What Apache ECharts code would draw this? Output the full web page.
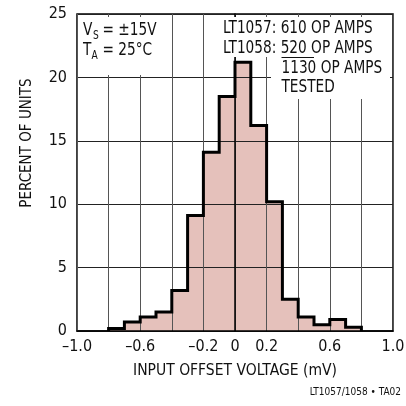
<!DOCTYPE html>
<html>
<head>
<meta charset="utf-8">
<script src="https://cdn.jsdelivr.net/npm/echarts@6/dist/echarts.min.js"></script>
<style>
html,body{margin:0;padding:0;background:#fff;}
#chart{width:406px;height:406px;}
</style>
</head>
<body>
<div id="chart"></div>
<script>
// ---- data ----
const binStarts = [-0.8,-0.7,-0.6,-0.5,-0.4,-0.3,-0.2,-0.1,0.0,0.1,0.2,0.3,0.4,0.5,0.6,0.7];
const binWidth = 0.1;
const percentOfUnits = [0.2,0.7,1.1,1.5,3.2,9.1,14.1,18.5,21.2,16.2,10.2,2.5,1.1,0.5,0.9,0.3];
const xLabelValues = [-1.0,-0.6,-0.2,0,0.2,0.6,1.0];
const xLabelTexts = ['\u20131.0','\u20130.6','\u20130.2','0','0.2','0.6','1.0'];
const yTicks = [0,5,10,15,20,25];

// step outline points built from the bins
const stepData = [[binStarts[0], 0]];
binStarts.forEach((s, i) => stepData.push([s, percentOfUnits[i]]));
const lastEnd = binStarts[binStarts.length - 1] + binWidth;
stepData.push([lastEnd, percentOfUnits[percentOfUnits.length - 1]]);
stepData.push([lastEnd, 0]);

const FONT = '"DejaVu Sans Condensed","Liberation Sans Narrow","Liberation Sans",sans-serif';
const SX = 0.845;
function t(x, y, text, size, extra) {
  return Object.assign({type: 'text', z: 101, x: x, y: y, scaleX: SX,
    style: {text: text, font: size + 'px ' + FONT, fill: '#111', verticalAlign: 'middle'}}, extra || {});
}
const chart = echarts.init(document.getElementById('chart'));
chart.setOption({
  animation: false,
  backgroundColor: '#fff',
  grid: {
    left: 77, right: 13, top: 14, bottom: 75,
    show: true, borderColor: '#000', borderWidth: 1.5,
    outerBoundsMode: 'none', containLabel: false
  },
  xAxis: {
    type: 'value', min: -1, max: 1, interval: 0.2, z: 3,
    name: 'INPUT OFFSET VOLTAGE (mV)', nameLocation: 'middle', nameGap: 32,
    nameTextStyle: {fontFamily: FONT, fontSize: 15.5, color: '#111'},
    axisLine: {show: true, lineStyle: {color: '#000', width: 1.5}},
    axisTick: {show: false},
    splitLine: {show: true, lineStyle: {color: '#555', width: 1}},
    axisLabel: {
      fontFamily: FONT, fontSize: 16, color: '#111', margin: 8,
      showMinLabel: true, showMaxLabel: true, hideOverlap: false,
      formatter: function (v) {
        for (let i = 0; i < xLabelValues.length; i++) {
          if (Math.abs(v - xLabelValues[i]) < 1e-6) return xLabelTexts[i];
        }
        return '';
      }
    }
  },
  yAxis: {
    type: 'value', min: yTicks[0], max: yTicks[yTicks.length - 1], interval: 5, z: 3,
    axisLine: {show: true, lineStyle: {color: '#000', width: 1.5}},
    axisTick: {show: false},
    splitLine: {show: true, lineStyle: {color: '#222', width: 1}},
    axisLabel: {fontFamily: FONT, fontSize: 16, color: '#111', margin: 10,
      showMinLabel: true, showMaxLabel: true}
  },
  series: [
    {
      type: 'line', step: 'end', data: stepData, showSymbol: false, z: 1,
      lineStyle: {width: 0, color: '#e5c1bb'},
      areaStyle: {color: '#e5c1bb', opacity: 1},
      silent: true
    },
    {
      type: 'line', step: 'end', data: stepData, showSymbol: false, z: 4,
      lineStyle: {width: 3, color: '#000', join: 'miter'},
      silent: true
    }
  ],
  graphic: [
    // white boxes behind annotations
    {type: 'rect', z: 100, shape: {x: 78.5, y: 17, width: 89, height: 58}, style: {fill: '#fff'}},
    {type: 'rect', z: 100, shape: {x: 218, y: 17, width: 172, height: 40}, style: {fill: '#fff'}},
    {type: 'rect', z: 100, shape: {x: 271, y: 57, width: 119, height: 42}, style: {fill: '#fff'}},
    // left annotation
    t(83, 30, 'V', 18),
    t(93, 35.5, 'S', 12),
    t(102.5, 30, '= \u00b115V', 18),
    t(83, 50, 'T', 18),
    t(91.5, 55.5, 'A', 12),
    t(102.5, 50, '= 25\u00b0C', 18),
    // right annotation
    t(223, 28.5, 'LT1057: 610 OP AMPS', 18),
    t(223, 48.5, 'LT1058: 520 OP AMPS', 18),
    {type: 'line', z: 101, shape: {x1: 281.5, y1: 57.5, x2: 314, y2: 57.5}, style: {stroke: '#111', lineWidth: 1.2}},
    t(281.5, 68.5, '1130 OP AMPS', 18),
    t(281.5, 87.5, 'TESTED', 18),
    // y axis title
    {type: 'text', z: 101, x: 27, y: 143, rotation: Math.PI / 2,
      style: {text: 'PERCENT OF UNITS', font: '15px ' + FONT, fill: '#111', align: 'center', verticalAlign: 'middle'}},
    // footer
    {type: 'text', z: 101, x: 401, y: 392, style: {text: 'LT1057/1058 \u2022 TA02', font: '10px ' + FONT, fill: '#111', align: 'right', verticalAlign: 'middle'}}
  ]
});
</script>
</body>
</html>
